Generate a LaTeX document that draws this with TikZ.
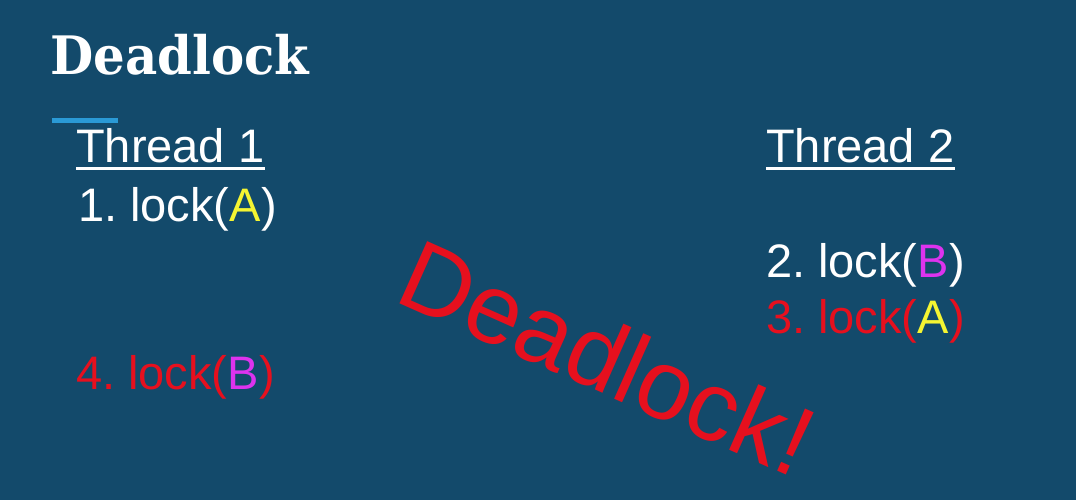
\documentclass[tikz,border=0pt]{standalone}
\usepackage{fontspec}
\setmainfont{Liberation Sans}
\newfontfamily\slab{DejaVu Serif}
\frenchspacing
\definecolor{bg}{HTML}{134A6B}
\definecolor{barblue}{HTML}{2A9AD6}
\definecolor{lockred}{HTML}{E6101E}
\definecolor{lockyellow}{HTML}{F5F532}
\definecolor{lockmag}{HTML}{DD33EE}
\tikzset{
  body/.style={anchor=base west, inner sep=0pt, text=white, font=\fontsize{47}{50}\selectfont},
  uline/.style={white, line width=3pt},
}
\begin{document}
\begin{tikzpicture}[x=1pt,y=1pt]
\fill[bg] (0,0) rectangle (1076,500);
\useasboundingbox (0,0) rectangle (1076,500);
% title
\node[anchor=base west, inner sep=0pt, text=white, xscale=0.94, font=\slab\bfseries\fontsize{53}{56}\selectfont] (title) at (50,425) {Deadlock};
\coordinate (barL) at (52,379);
\coordinate (barR) at (118,379);
\draw[barblue, line width=5pt] (barL) -- (barR);
% thread 1
\node[body] (t1) at (76,337) {Thread 1};
\draw[uline] ([yshift=-6pt]t1.base west) -- ([yshift=-6pt]t1.base east);
\node[body] (l1) at (78,278) {1. lock(\textcolor{lockyellow}{A})};
\node[body, text=lockred] (l4) at (76,110) {4. lock(\textcolor{lockmag}{B})};
% thread 2
\node[body] (t2) at (766,337) {Thread 2};
\draw[uline] ([yshift=-6pt]t2.base west) -- ([yshift=-6pt]t2.base east);
\node[body] (l2) at (766,222) {2. lock(\textcolor{lockmag}{B})};
\node[body, text=lockred] (l3) at (766,166) {3. lock(\textcolor{lockyellow}{A})};
% big label
\node[anchor=base west, inner sep=0pt, text=lockred, rotate=-24, font=\fontsize{99}{100}\selectfont] (dl) at (392,200) {Deadlock!};
\end{tikzpicture}
\end{document}
